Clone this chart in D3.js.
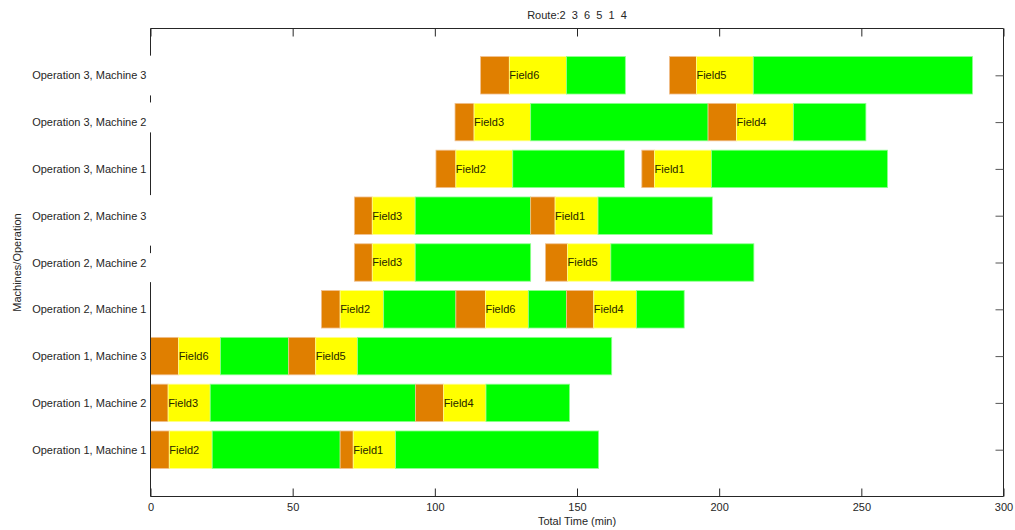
<!DOCTYPE html>
<html>
<head>
<meta charset="utf-8">
<script src="https://cdn.jsdelivr.net/npm/d3@7"></script>
<style>
  html, body { margin: 0; padding: 0; background: #fff; }
  svg { display: block; font-family: Arial, "Liberation Sans", sans-serif; }
  text { fill: #262626; }
</style>
</head>
<body>
<svg id="chart" width="1015" height="530"></svg>
<script>
// ---- data ----
const rowLabels = [
  "Operation 1, Machine 1", "Operation 1, Machine 2", "Operation 1, Machine 3",
  "Operation 2, Machine 1", "Operation 2, Machine 2", "Operation 2, Machine 3",
  "Operation 3, Machine 1", "Operation 3, Machine 2", "Operation 3, Machine 3"
];
const routeOrder = [2, 3, 6, 5, 1, 4];
const xTicks = [0, 50, 100, 150, 200, 250, 300];

// one entry per task: row index, field label, setup start, field start, travel start, end
const taskRow   = [0, 0, 1, 1, 2, 2, 3, 3, 3, 4, 4, 5, 5, 6, 6, 7, 7, 8, 8];
const taskField = ["Field2", "Field1", "Field3", "Field4", "Field6", "Field5",
                   "Field2", "Field6", "Field4", "Field3", "Field5", "Field3", "Field1",
                   "Field2", "Field1", "Field3", "Field4", "Field6", "Field5"];
const setupStart  = [0, 66.7, 0, 93.2, 0, 48.6, 60.1, 107.4, 146.3, 71.7, 138.9, 71.7, 133.7, 100.4, 172.8, 107.1, 196.1, 116.1, 182.5];
const fieldStart  = [6.6, 71.3, 6.2, 103.1, 9.9, 58.1, 66.7, 117.8, 155.9, 78.0, 146.7, 78.0, 142.3, 107.4, 177.3, 113.8, 206.1, 126.2, 192.0];
const travelStart = [21.7, 86.2, 21.0, 118.0, 24.6, 72.8, 82.0, 132.9, 170.9, 93.1, 161.9, 93.1, 157.4, 127.4, 197.3, 133.7, 226.1, 146.3, 212.0];
const taskEnd     = [66.7, 157.6, 93.2, 147.4, 48.6, 162.2, 107.4, 146.3, 187.7, 133.7, 212.2, 133.7, 197.6, 166.7, 259.2, 196.1, 251.6, 167.0, 289.1];

// visible pieces of the left spine (in y units)
const leftSpinePieces = [[10, 9.42], [8.57, 8.42], [7.78, 6.44], [5.36, 5.2], [4.58, 0]];

// ---- layout ----
const svg = d3.select("#chart");
const L = 150.5, R = 1003.5, T = 28.5, B = 496.5;
const x = d3.scaleLinear().domain([0, 300]).range([L, R]);
const y = d3.scaleLinear().domain([0, 10]).range([B, T]);
const barH = 0.8;
const FONT = "Arial, 'Liberation Sans', sans-serif";

const colors = { setup: "#e07f00", field: "#ffff00", travel: "#00ff00" };
const edges  = { setup: "#f0c090", field: "#ffff90", travel: "#90ff90" };

const tasks = taskRow.map((r, i) => ({
  row: r, field: taskField[i],
  segs: [
    { k: "setup",  a: setupStart[i],  b: fieldStart[i] },
    { k: "field",  a: fieldStart[i],  b: travelStart[i] },
    { k: "travel", a: travelStart[i], b: taskEnd[i] }
  ]
}));

// bars
const g = svg.append("g");
tasks.forEach(t => {
  const yc = t.row + 1;
  t.segs.forEach(s => {
    g.append("rect")
      .attr("x", x(s.a))
      .attr("y", y(yc + barH / 2))
      .attr("width", x(s.b) - x(s.a))
      .attr("height", y(yc - barH / 2) - y(yc + barH / 2))
      .attr("fill", colors[s.k])
      .attr("stroke", edges[s.k])
      .attr("stroke-width", 0.8);
  });
  g.append("text")
    .attr("x", x(t.segs[1].a))
    .attr("y", y(yc))
    .attr("dy", "0.35em")
    .attr("font-size", 11)
    .style("fill", "#262600")
    .text(t.field);
});

// frame lines
const axisColor = "#262626";
svg.append("line").attr("x1", L).attr("x2", R).attr("y1", T).attr("y2", T).attr("stroke", axisColor);
svg.append("line").attr("x1", L).attr("x2", R).attr("y1", B).attr("y2", B).attr("stroke", axisColor);
svg.append("line").attr("x1", R).attr("x2", R).attr("y1", T).attr("y2", B).attr("stroke", axisColor);
leftSpinePieces.forEach(p => {
  svg.append("line").attr("x1", L).attr("x2", L)
    .attr("y1", y(p[0])).attr("y2", y(p[1])).attr("stroke", axisColor);
});

// x axis bottom
const xb = svg.append("g").attr("transform", `translate(0,${B})`)
  .call(d3.axisBottom(x).tickValues(xTicks).tickSizeInner(-8).tickSizeOuter(0).tickPadding(7));
xb.select(".domain").remove();
xb.selectAll("line").attr("stroke", axisColor);
xb.selectAll("text").attr("font-size", 11).attr("font-family", FONT).style("fill", "#262626");

// x axis top (ticks only)
const xt = svg.append("g").attr("transform", `translate(0,${T})`)
  .call(d3.axisTop(x).tickValues(xTicks).tickSizeInner(-8).tickSizeOuter(0).tickFormat(""));
xt.select(".domain").remove();
xt.selectAll("line").attr("stroke", axisColor);

// y axis right (ticks only)
const rowIdx = rowLabels.map((d, i) => i + 1);
const yr = svg.append("g").attr("transform", `translate(${R},0)`)
  .call(d3.axisRight(y).tickValues(rowIdx).tickSizeInner(-8).tickSizeOuter(0).tickFormat(""));
yr.select(".domain").remove();
yr.selectAll("line").attr("stroke", "#555");

// y labels on left
const yl = svg.append("g").attr("transform", `translate(${L},0)`)
  .call(d3.axisLeft(y).tickValues(rowIdx).tickSize(0).tickPadding(4)
    .tickFormat(v => rowLabels[v - 1]));
yl.select(".domain").remove();
yl.selectAll("text").attr("font-size", 11).attr("font-family", FONT).style("fill", "#262626");

// titles
svg.append("text")
  .attr("x", (L + R) / 2).attr("y", 19)
  .attr("text-anchor", "middle").attr("font-size", 11)
  .style("white-space", "pre")
  .text("Route:" + routeOrder.join("  "));

svg.append("text")
  .attr("x", (L + R) / 2).attr("y", 525)
  .attr("text-anchor", "middle").attr("font-size", 11)
  .text("Total Time (min)");

svg.append("text")
  .attr("transform", `translate(21,${(T + B) / 2}) rotate(-90)`)
  .attr("text-anchor", "middle").attr("font-size", 11)
  .text("Machines/Operation");
</script>
</body>
</html>
